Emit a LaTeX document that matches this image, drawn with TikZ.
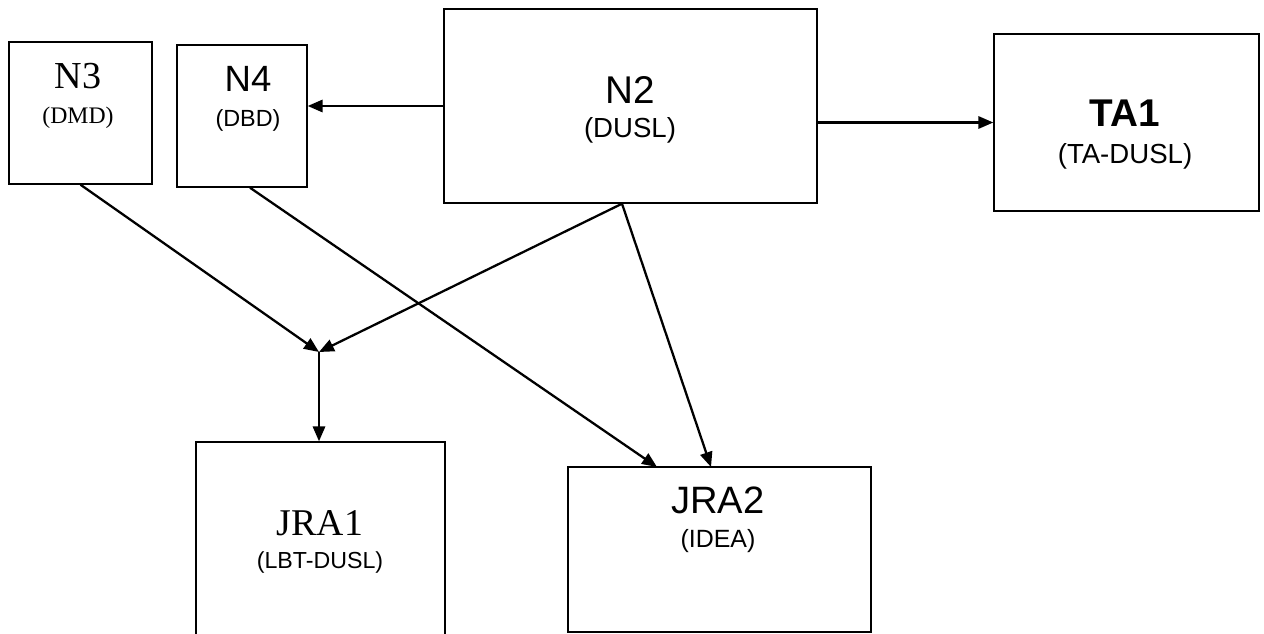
\documentclass[tikz,border=0pt]{standalone}
\usepackage{fontspec}
\setmainfont{Liberation Sans}
\newfontfamily\timesfont{Liberation Serif}
\usetikzlibrary{arrows.meta,positioning,calc}

\begin{document}
\begin{tikzpicture}[
  box/.style={draw, line width=0.8pt, inner sep=0pt},
  ttl/.style={anchor=base, inner sep=0pt},
  arr/.style={-{Triangle[length=8.5pt,width=7pt]}, line width=1.3pt},
]
\useasboundingbox (0,0) rectangle (25.28,12.66);
% boxes
\node[box, minimum width=2.86cm, minimum height=2.84cm] (n3) at (1.61,10.40) {};
\node[box, minimum width=2.60cm, minimum height=2.84cm] (n4) at (4.84,10.34) {};
\node[box, minimum width=7.46cm, minimum height=3.88cm] (n2) at (12.61,10.54) {};
\node[box, minimum width=5.30cm, minimum height=3.54cm] (ta1) at (22.53,10.21) {};
\node[box, minimum width=4.98cm, minimum height=4.06cm] (jra1) at (6.41,1.79) {};
\node[box, minimum width=6.06cm, minimum height=3.30cm] (jra2) at (14.39,1.67) {};
% labels
\node[ttl, font=\timesfont\fontsize{21.7}{24}\selectfont] (n3title) at (1.56,10.90) {N3};
\node[ttl, font=\timesfont\fontsize{13.5}{16}\selectfont] (n3sub) at (1.56,10.20) {(DMD)};
\node[ttl, font=\fontsize{20.8}{24}\selectfont] (n4title) at (4.96,10.82) {N4};
\node[ttl, font=\fontsize{13.3}{16}\selectfont] (n4sub) at (4.96,10.12) {(DBD)};
\node[ttl, font=\fontsize{22}{26}\selectfont] (n2title) at (12.60,10.60) {N2};
\node[ttl, font=\fontsize{15.7}{18}\selectfont] (n2sub) at (12.60,9.92) {(DUSL)};
\node[ttl, font=\bfseries\fontsize{22}{26}\selectfont] (ta1title) at (22.50,10.12) {TA1};
\node[ttl, font=\fontsize{15.7}{18}\selectfont] (ta1sub) at (22.50,9.40) {(TA-DUSL)};
\node[ttl, font=\timesfont\fontsize{21.5}{24}\selectfont] (jra1title) at (6.40,1.96) {JRA1};
\node[ttl, font=\fontsize{13.2}{16}\selectfont] (jra1sub) at (6.40,1.30) {(LBT-DUSL)};
\node[ttl, font=\fontsize{21.7}{24}\selectfont] (jra2title) at (14.36,2.40) {JRA2};
\node[ttl, font=\fontsize{14.2}{17}\selectfont] (jra2sub) at (14.36,1.72) {(IDEA)};
% connector points
\coordinate (join) at (6.38,5.62);
\coordinate (n2out) at ($(n2.south)+(-0.17,0)$);
\coordinate (n4out) at ($(n4.south)+(0.16,0)$);
\coordinate (jra2a) at (13.14,3.32);
\coordinate (jra2b) at (14.22,3.32);
% arrows
\draw[arr] (n2.west) -- (n2.west -| n4.east);
\draw[arr] (n2.east |- ta1.west) -- (ta1.west);
\draw[arr] (n3.south) -- (join);
\draw[arr] (n2out) -- (join);
\draw[arr] (join) -- (join |- jra1.north);
\draw[arr] (n4out) -- (jra2a);
\draw[arr] (n2out) -- (jra2b);
\end{tikzpicture}
\end{document}
